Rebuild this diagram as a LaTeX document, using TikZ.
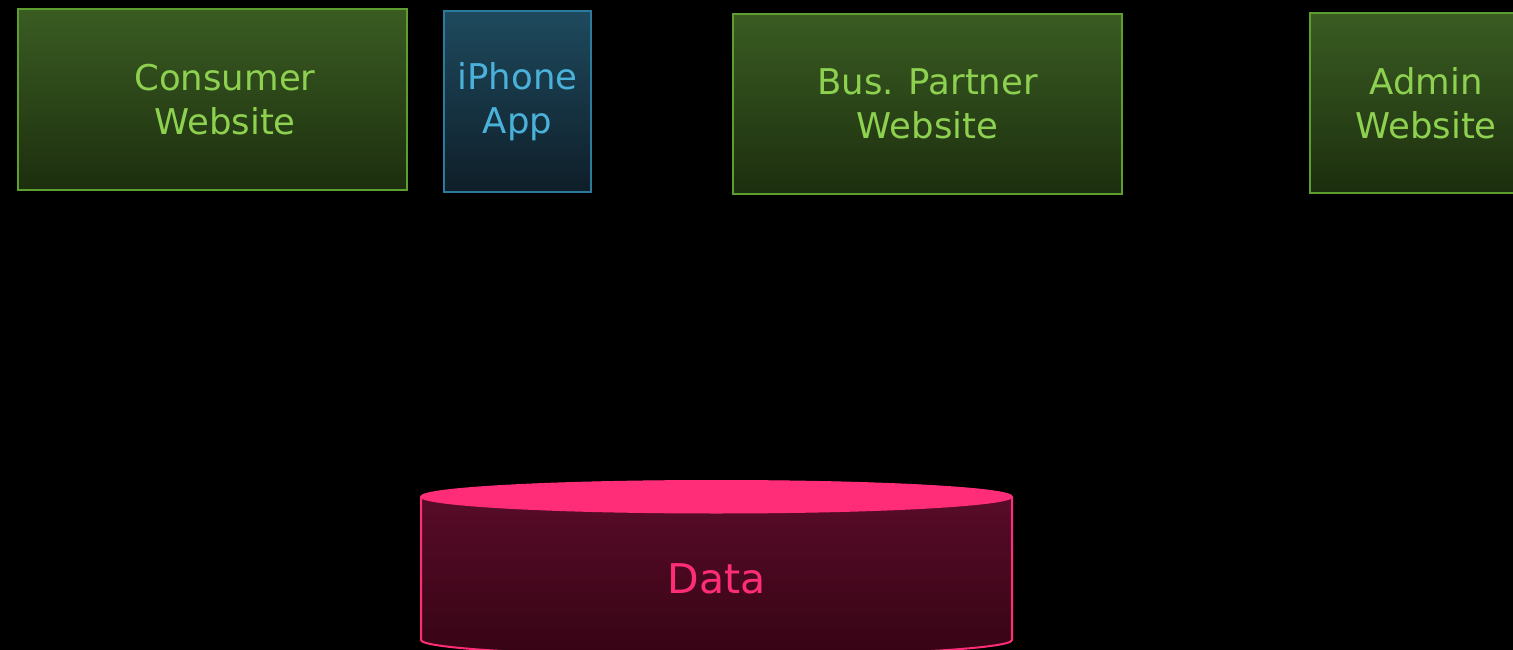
\documentclass[tikz,border=0pt]{standalone}
\usepackage{fontspec}
\setmainfont{DejaVu Sans}
\begin{document}
\begin{tikzpicture}[x=1pt,y=-1pt,
  greenbox/.style={draw=gborder, line width=2pt, top color=gtop, bottom color=gbot,
    text=gtext, align=center, inner sep=0pt, font=\fontsize{35.5}{44}\selectfont},
  bluebox/.style={draw=bborder, line width=2pt, top color=btop, bottom color=bbot,
    text=btext, align=center, inner sep=0pt, font=\fontsize{35.5}{44}\selectfont},
  dbtext/.style={text=pinkc, font=\fontsize{41}{48}\selectfont, inner sep=0pt}
]
\definecolor{gborder}{HTML}{5E9E2E}
\definecolor{gtop}{HTML}{3A5C22}
\definecolor{gbot}{HTML}{1C2E0E}
\definecolor{gtext}{HTML}{8ED150}
\definecolor{bborder}{HTML}{2C7A9C}
\definecolor{btop}{HTML}{1E4A5E}
\definecolor{bbot}{HTML}{0F1E28}
\definecolor{btext}{HTML}{4AB2DA}
\definecolor{pinkc}{HTML}{FF2D78}
\definecolor{ptop}{HTML}{5C0C2A}
\definecolor{pbot}{HTML}{360414}
\fill[black] (0,0) rectangle (1513,650);
\useasboundingbox (0,0) rectangle (1513,650);
\clip (0,0) rectangle (1513,650);

\node[greenbox, minimum width=389pt, minimum height=181pt] (consumer) at (212.5,99.5) {\hspace*{25pt}Consumer\\\hspace*{25pt}Website};
\node[bluebox, minimum width=147pt, minimum height=181pt] (iphone) at (517.5,101.5) {iPhone\\App};
\node[greenbox, minimum width=389pt, minimum height=180pt] (partner) at (927.5,104) {Bus. Partner\\Website};
\node[greenbox, minimum width=232pt, minimum height=180pt] (admin) at (1426,103) {Admin\\Website};

% cylinder
\path[draw=pinkc, line width=2pt, top color=ptop, bottom color=pbot]
  (421,497) -- (421,640) arc[start angle=180, end angle=0, x radius=295.5, y radius=16]
  -- (1012,497) arc[start angle=0, end angle=-180, x radius=295.5, y radius=16] -- cycle;
\fill[pinkc] (716.5,497) ellipse[x radius=296.5, y radius=16.5];
\node[dbtext] (data) at (716.5,579) {Data};
\end{tikzpicture}
\end{document}
